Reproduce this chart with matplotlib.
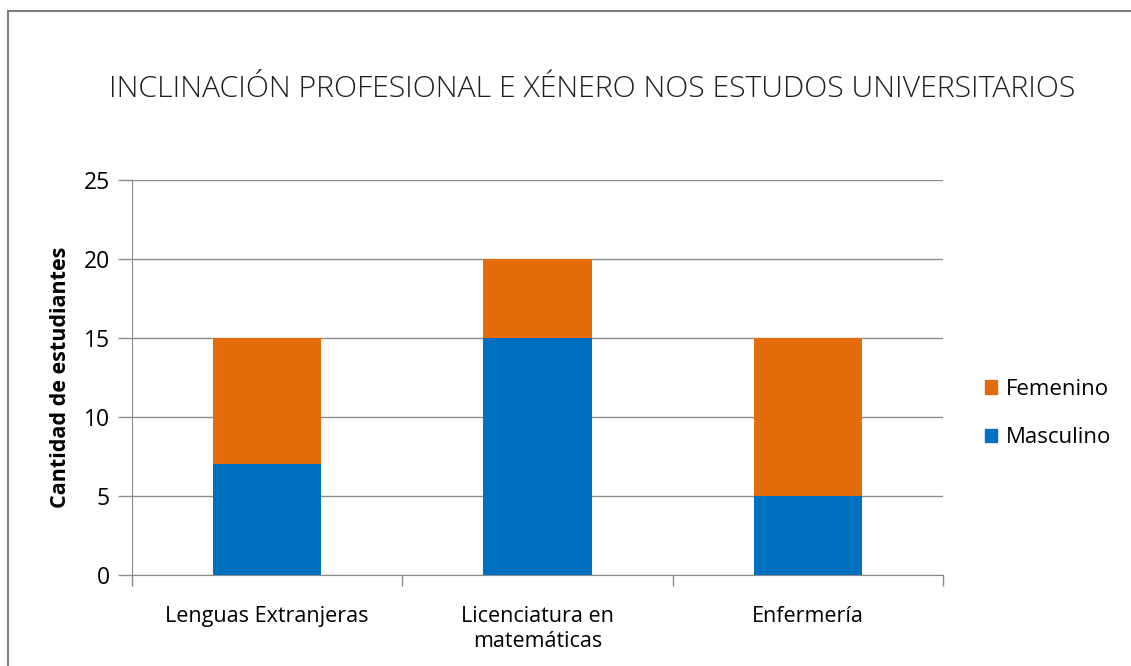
import matplotlib
matplotlib.use('Agg')
import matplotlib.pyplot as plt
from matplotlib.patches import Rectangle, Patch
import numpy as np

plt.rcParams['font.family'] = ['Open Sans', 'DejaVu Sans']

categories = ['Lenguas Extranjeras', 'Licenciatura en\nmatemáticas', 'Enfermería']
masculino = [7, 15, 5]
femenino = [8, 5, 10]
yticks = [0, 5, 10, 15, 20, 25]

blue = '#0070C0'
orange = '#E46C0A'
grid_gray = '#8C8C8C'

fig = plt.figure(figsize=(11.31, 6.66), dpi=100)
# outer chart frame (cut off on right/bottom like the screenshot)
fig.patches.append(Rectangle((8 / 1131, -0.1), 1.2, (1 - 11 / 666) + 0.1,
                             transform=fig.transFigure, fill=False,
                             edgecolor='#7F7F7F', linewidth=1.5))

ax = fig.add_axes([0.1167, 0.1366, 0.7171, 0.5931])
x = np.arange(len(categories))
ax.bar(x, masculino, width=0.4, color=blue, label='Masculino', zorder=3)
ax.bar(x, femenino, width=0.4, bottom=masculino, color=orange, label='Femenino', zorder=3)

ax.set_xlim(-0.5, len(categories) - 0.5)
ax.set_ylim(0, 25)
ax.set_yticks(yticks)
ax.yaxis.grid(True, color=grid_gray, linewidth=1, zorder=0)
ax.tick_params(axis='y', length=10, width=1, color=grid_gray, labelsize=16.5, pad=6)

ax.set_xticks(x)
ax.set_xticklabels(categories, fontsize=15.5, linespacing=1.3)
ax.tick_params(axis='x', which='major', length=0, pad=22)
ax.set_xticks(np.arange(-0.5, len(categories)), minor=True)
ax.tick_params(axis='x', which='minor', length=8, width=1, color=grid_gray)

for s in ['top', 'right']:
    ax.spines[s].set_visible(False)
for s in ['left', 'bottom']:
    ax.spines[s].set_color(grid_gray)

ax.set_ylabel('Cantidad de estudiantes', fontsize=15.5, fontweight='bold', labelpad=9)

fig.text(0.5235, 0.866, 'INCLINACIÓN PROFESIONAL E XÉNERO NOS ESTUDOS UNIVERSITARIOS',
         ha='center', va='center', fontsize=21.8, color='#1F1F1F', fontweight='light')

handles = [Patch(color=orange), Patch(color=blue)]
fig.legend(handles, ['Femenino', 'Masculino'], loc='center left',
           bbox_to_anchor=(0.853, 0.379), frameon=False, fontsize=16,
           handlelength=0.55, handleheight=0.55, handletextpad=0.4, labelspacing=1.25)

fig.savefig('out.png', dpi=100)
